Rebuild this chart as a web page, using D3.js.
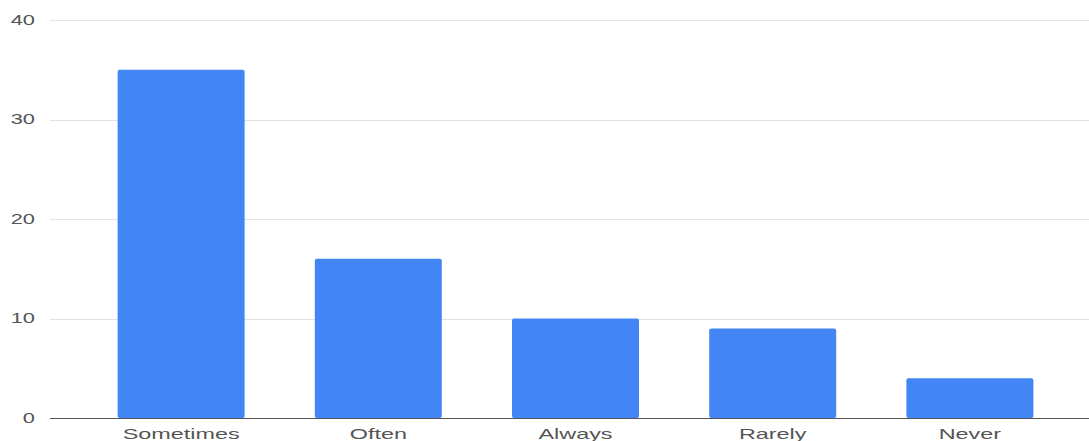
<!DOCTYPE html>
<html>
<head>
<meta charset="utf-8">
<script src="https://cdn.jsdelivr.net/npm/d3@7"></script>
<style>
  body { margin: 0; background: #fff; }
  svg { display: block; font-family: Arial, "Liberation Sans", sans-serif; }
</style>
</head>
<body>
<svg width="1089" height="441"></svg>
<script>
// data
const categories = ["Sometimes", "Often", "Always", "Rarely", "Never"];
const counts = [35, 16, 10, 9, 4];
const yTicks = [0, 10, 20, 30, 40];

const svg = d3.select("svg");
const stretch = 1.56; // the picture's text is wide, so squash it sideways

const x = d3.scaleBand()
  .domain(categories)
  .range([62, 1089])
  .paddingInner(0.356)
  .paddingOuter(0.282);

const y = d3.scaleLinear()
  .domain([0, 40])
  .range([418, 20]);

// gridlines
svg.append("g")
  .selectAll("line")
  .data(yTicks.filter(d => d !== 0))
  .join("line")
  .attr("x1", 50)
  .attr("x2", 1089)
  .attr("y1", d => Math.round(y(d)) + 0.5)
  .attr("y2", d => Math.round(y(d)) + 0.5)
  .attr("stroke", "#e3e3e3")
  .attr("stroke-width", 1);

// y tick labels
svg.append("g")
  .selectAll("text")
  .data(yTicks)
  .join("text")
  .attr("transform", d => `translate(35,${y(d)}) scale(${stretch},1)`)
  .attr("text-anchor", "end")
  .attr("dy", "0.35em")
  .attr("font-size", 14)
  .attr("fill", "#555")
  .text(d => d);

// bars
svg.append("g")
  .selectAll("rect")
  .data(counts)
  .join("rect")
  .attr("x", (d, i) => x(categories[i]))
  .attr("width", x.bandwidth())
  .attr("y", d => y(d))
  .attr("height", d => y(0) - y(d))
  .attr("rx", 2)
  .attr("fill", "#4285f4");

// baseline
svg.append("line")
  .attr("x1", 50)
  .attr("x2", 1089)
  .attr("y1", y(0) + 0.5)
  .attr("y2", y(0) + 0.5)
  .attr("stroke", "#555")
  .attr("stroke-width", 1);

// category labels
svg.append("g")
  .selectAll("text")
  .data(categories)
  .join("text")
  .attr("transform", d => `translate(${x(d) + x.bandwidth() / 2},439) scale(${stretch},1)`)
  .attr("text-anchor", "middle")
  .attr("font-size", 15)
  .attr("fill", "#555")
  .text(d => d);
</script>
</body>
</html>
